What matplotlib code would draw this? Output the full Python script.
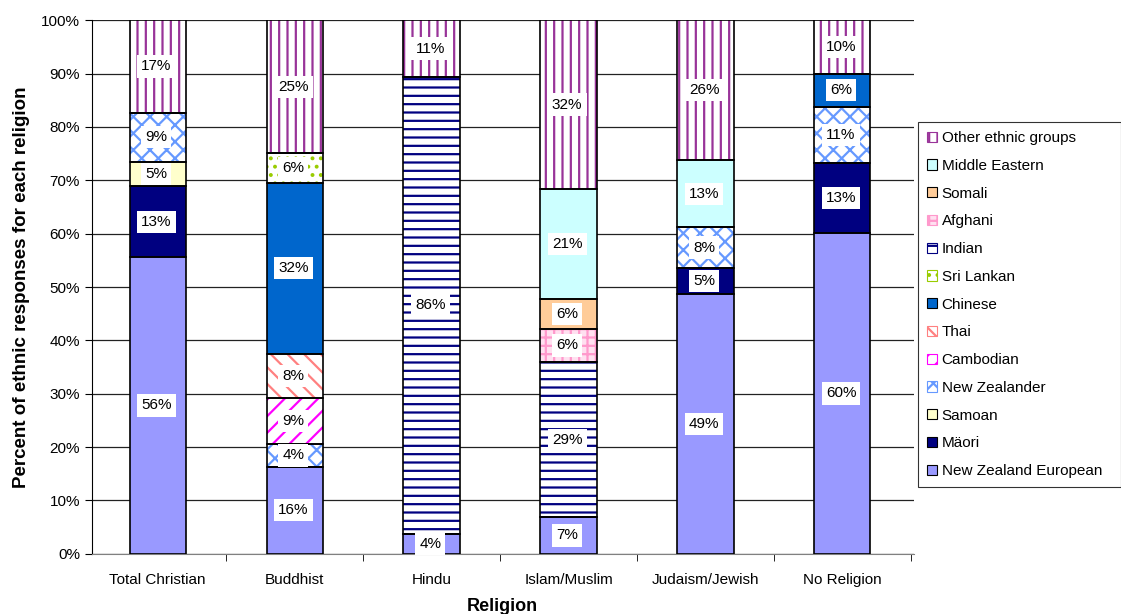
import matplotlib
matplotlib.use('Agg')
import matplotlib.pyplot as plt
from matplotlib.patches import Patch
from matplotlib.ticker import FixedLocator, FuncFormatter
import numpy as np

plt.rcParams['font.family'] = ['Liberation Sans', 'DejaVu Sans']
plt.rcParams['hatch.linewidth'] = 1.6

religions = ['Total Christian', 'Buddhist', 'Hindu', 'Islam/Muslim', 'Judaism/Jewish', 'No Religion']

# percentages per ethnic group, one value per religion
nz_european    = [55.6, 16.3, 3.8, 6.9, 48.7, 60.1]
maori          = [13.3, 0, 0, 0, 4.9, 13.1]
samoan         = [4.6, 0, 0, 0, 0, 0]
new_zealander  = [9.2, 4.3, 0, 0, 7.6, 10.6]
cambodian      = [0, 8.6, 0, 0, 0, 0]
thai           = [0, 8.3, 0, 0, 0, 0]
chinese        = [0, 32.0, 0, 0, 0, 6.2]
sri_lankan     = [0, 5.6, 0, 0, 0, 0]
indian         = [0, 0, 85.6, 29.0, 0, 0]
afghani        = [0, 0, 0, 6.3, 0, 0]
somali         = [0, 0, 0, 5.6, 0, 0]
middle_eastern = [0, 0, 0, 20.6, 12.6, 0]
other_ethnic   = [17.3, 24.9, 10.6, 31.6, 26.2, 10.0]

# name, values, face colour, hatch colour, hatch
groups = [
    ('New Zealand European', nz_european, '#9999FF', None, None),
    ('Mäori', maori, '#000080', None, None),
    ('Samoan', samoan, '#FFFFCC', None, None),
    ('New Zealander', new_zealander, 'white', '#6699FF', 'xx'),
    ('Cambodian', cambodian, 'white', '#FF00FF', '//'),
    ('Thai', thai, 'white', '#FF8080', '\\\\'),
    ('Chinese', chinese, '#0066CC', None, None),
    ('Sri Lankan', sri_lankan, 'white', '#99CC00', '..'),
    ('Indian', indian, 'white', '#000080', '--'),
    ('Afghani', afghani, '#FFE0F0', '#FF99CC', '++'),
    ('Somali', somali, '#FFCC99', None, None),
    ('Middle Eastern', middle_eastern, '#CCFFFF', None, None),
    ('Other ethnic groups', other_ethnic, 'white', '#993399', '||'),
]

fig = plt.figure(figsize=(11.21, 6.14), dpi=100)
ax = fig.add_axes([0.082, 0.098, 0.733, 0.869])

x = np.arange(len(religions))
width = 0.41
bottom = np.zeros(len(religions))
handles = []
for name, vals, face, hcol, hatch in groups:
    vals = np.array(vals, dtype=float)
    if hatch:
        ax.bar(x, vals, width, bottom=bottom, color=face, edgecolor=hcol,
               hatch=hatch, linewidth=0, zorder=2)
    else:
        ax.bar(x, vals, width, bottom=bottom, color=face, linewidth=0, zorder=2)
    ax.bar(x, vals, width, bottom=bottom, fill=False, edgecolor='black',
           linewidth=1.2, zorder=3)
    for xi, v, b in zip(x, vals, bottom):
        if v > 0:
            ax.text(xi - 0.01, b + v / 2, f'{v:.0f}%', ha='center', va='center',
                    fontsize=11, zorder=4,
                    bbox=dict(facecolor='white', edgecolor='none', pad=3))
    bottom += vals
    handles.append(Patch(facecolor=face, edgecolor=hcol if hatch else 'black',
                         hatch=hatch, linewidth=0.8, label=name))

ax.set_xlim(-0.48, len(religions) - 0.48)
ax.set_ylim(0, 100)
ax.set_yticks(np.arange(0, 101, 10))
ax.yaxis.set_major_formatter(FuncFormatter(lambda v, p: f'{v:.0f}%'))
ax.set_xticks(x)
ax.set_xticklabels(religions, fontsize=11)
ax.xaxis.set_minor_locator(FixedLocator(np.arange(-0.5, len(religions), 1)))
ax.tick_params(axis='x', which='major', length=0, pad=14)
ax.tick_params(axis='x', which='minor', length=5, direction='out')
ax.tick_params(axis='y', labelsize=11, length=5, direction='out')
ax.grid(axis='y', color='#222222', linewidth=0.9, zorder=0)
ax.set_axisbelow(True)
for s in ['top', 'right']:
    ax.spines[s].set_visible(False)
ax.spines['left'].set_color('black')
ax.spines['bottom'].set_color('#808080')

ax.set_ylabel('Percent of ethnic responses for each religion', fontsize=13.5,
              fontweight='bold', labelpad=8)
ax.set_xlabel('Religion', fontsize=13, fontweight='bold', labelpad=8)

leg = fig.legend(handles=handles[::-1], loc='upper left',
                 bbox_to_anchor=(918 / 1121, 1 - 122 / 614, 203 / 1121, 0),
                 mode='expand', fontsize=11,
                 frameon=True, fancybox=False, edgecolor='black',
                 handlelength=0.65, handleheight=0.65, handletextpad=0.3,
                 labelspacing=0.9, borderpad=0.6, borderaxespad=0)
leg.get_frame().set_linewidth(0.8)

fig.savefig('out.png', dpi=100)
